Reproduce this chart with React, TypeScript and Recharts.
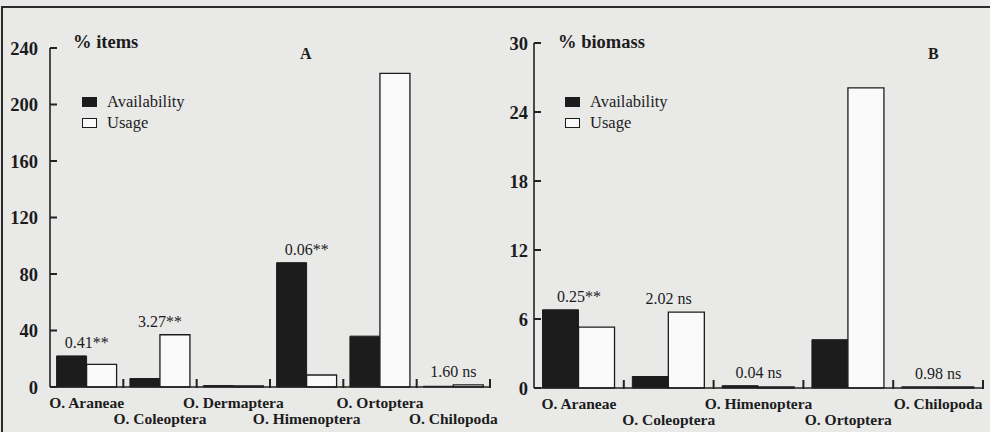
import React from 'react';
import { ComposedChart, Bar, Line, XAxis, YAxis, LabelList } from 'recharts';

// panel A - % items
const itemCategories = ['O. Araneae', 'O. Coleoptera', 'O. Dermaptera', 'O. Himenoptera', 'O. Ortoptera', 'O. Chilopoda'];
const itemAvailability = [22, 6, 1, 88, 36, 0.5];
const itemUsage = [16, 37, 0.8, 8.5, 222, 1.5];
const itemTests = ['0.41**', '3.27**', '', '0.06**', '', '1.60 ns'];
const itemTicks = [0, 40, 80, 120, 160, 200, 240];

// panel B - % biomass
const biomassCategories = ['O. Araneae', 'O. Coleoptera', 'O. Himenoptera', 'O. Ortoptera', 'O. Chilopoda'];
const biomassAvailability = [6.8, 1.0, 0.2, 4.2, 0.1];
const biomassUsage = [5.3, 6.6, 0.1, 26.1, 0.1];
const biomassTests = ['0.25**', '2.02 ns', '0.04 ns', '', '0.98 ns'];
const biomassTicks = [0, 6, 12, 18, 24, 30];

const INK = '#1c1c1c';
const AXIS = '#222';
const PAPER = '#e9e9e8';
const SERIF = '"Liberation Serif", "DejaVu Serif", serif';

const buildRows = (cats: string[], avail: number[], usage: number[], tests: string[]) =>
  cats.map((name, i) => ({
    name,
    availability: avail[i],
    usage: usage[i],
    top: Math.max(avail[i], usage[i]),
    test: tests[i],
  }));

// category label (alternating rows) plus the boundary tick on its right
const makeCategoryTick = (band: number) => (props: any) => {
  const { x, y, payload, index } = props;
  const dy = index % 2 === 0 ? 21 : 37;
  return (
    <g>
      <rect x={x + band / 2 - 1} y={y - 8} width={2} height={9} fill={AXIS} />
      <text x={x} y={y + dy} textAnchor="middle" fontWeight="bold" fontSize={15.5} fill={INK} fontFamily={SERIF}>
        {payload.value}
      </text>
    </g>
  );
};

// value label plus a short inward tick
const makeValueTick = (gap: number) => (props: any) => {
  const { x, y, payload } = props;
  return (
    <g>
      <rect x={x + gap} y={y - 1} width={7} height={2} fill={AXIS} />
      <text x={x} y={y + 6.5} textAnchor="end" fontWeight="bold" fontSize={18.5} fill={INK} fontFamily={SERIF}>
        {payload.value}
      </text>
    </g>
  );
};

interface PanelProps {
  rows: ReturnType<typeof buildRows>;
  left: number;
  width: number;
  margin: { top: number; right: number; left: number; bottom: number };
  yWidth: number;
  xHeight: number;
  ticks: number[];
  gap: number;
  band: number;
  catGap: string;
  title: string;
  titleX: number;
  letter: string;
  letterX: number;
  legendX: number;
}

const Panel: React.FC<PanelProps> = (p) => {
  const maxTick = p.ticks[p.ticks.length - 1];
  return (
    <div style={{ position: 'absolute', left: p.left, top: 0, width: p.width, height: 432 }}>
      <ComposedChart width={p.width} height={432} data={p.rows} margin={p.margin} barGap={0} barCategoryGap={p.catGap}>
        <XAxis
          dataKey="name"
          height={p.xHeight}
          interval={0}
          tickSize={0}
          tickMargin={0}
          tickLine={false}
          axisLine={{ stroke: AXIS, strokeWidth: 1.6 }}
          tick={makeCategoryTick(p.band)}
        />
        <YAxis
          width={p.yWidth}
          domain={[0, maxTick]}
          ticks={p.ticks}
          interval={0}
          tickSize={0}
          tickMargin={p.gap}
          tickLine={false}
          axisLine={{ stroke: AXIS, strokeWidth: 1.6 }}
          tick={makeValueTick(p.gap)}
        />
        <Bar dataKey="availability" fill={INK} stroke={INK} strokeWidth={1} isAnimationActive={false} />
        <Bar dataKey="usage" fill="#fafafa" stroke={INK} strokeWidth={1.3} isAnimationActive={false} />
        <Line dataKey="top" stroke="none" dot={false} activeDot={false} legendType="none" isAnimationActive={false}>
          <LabelList dataKey="test" position="top" offset={8} fontSize={16} fill={INK} fontFamily={SERIF} />
        </Line>
      </ComposedChart>

      <div style={{ position: 'absolute', left: p.titleX, top: 33, fontSize: 18.5, fontWeight: 'bold', lineHeight: 1, color: INK }}>
        {p.title}
      </div>
      <div style={{ position: 'absolute', left: p.letterX, top: 46, fontSize: 16, fontWeight: 'bold', lineHeight: 1, color: INK }}>
        {p.letter}
      </div>

      {[
        { label: 'Availability', fill: INK, top: 94 },
        { label: 'Usage', fill: '#fafafa', top: 115 },
      ].map((item) => (
        <div key={item.label} style={{ position: 'absolute', left: p.legendX, top: item.top, display: 'flex', alignItems: 'center', height: 16, fontSize: 16.5, lineHeight: 1, color: INK }}>
          <span style={{ display: 'inline-block', width: 13, height: 8, background: item.fill, border: `1px solid ${INK}`, marginRight: 10 }} />
          <span>{item.label}</span>
        </div>
      ))}
    </div>
  );
};

const App: React.FC = () => {
  const itemRows = buildRows(itemCategories, itemAvailability, itemUsage, itemTests);
  const biomassRows = buildRows(biomassCategories, biomassAvailability, biomassUsage, biomassTests);

  return (
    <div style={{ position: 'absolute', left: 0, top: 0, width: 990, height: 432, background: PAPER, fontFamily: SERIF, overflow: 'hidden' }}>
      <div style={{ position: 'absolute', left: 1, top: 6, width: 989, height: 426, borderTop: '2px solid #2b2b2b', borderLeft: '2px solid #2b2b2b' }} />
      <Panel
        rows={itemRows}
        left={0}
        width={500}
        margin={{ top: 48, right: 10, left: 10, bottom: 0 }}
        yWidth={40}
        xHeight={45}
        ticks={itemTicks}
        gap={12}
        band={440 / itemCategories.length}
        catGap="9%"
        title="% items"
        titleX={73}
        letter="A"
        letterX={300}
        legendX={82}
      />
      <Panel
        rows={biomassRows}
        left={500}
        width={490}
        margin={{ top: 43, right: 7, left: 4, bottom: 0 }}
        yWidth={30}
        xHeight={44}
        ticks={biomassTicks}
        gap={6}
        band={449 / biomassCategories.length}
        catGap="9.5%"
        title="% biomass"
        titleX={58}
        letter="B"
        letterX={428}
        legendX={65}
      />
    </div>
  );
};

export default App;
